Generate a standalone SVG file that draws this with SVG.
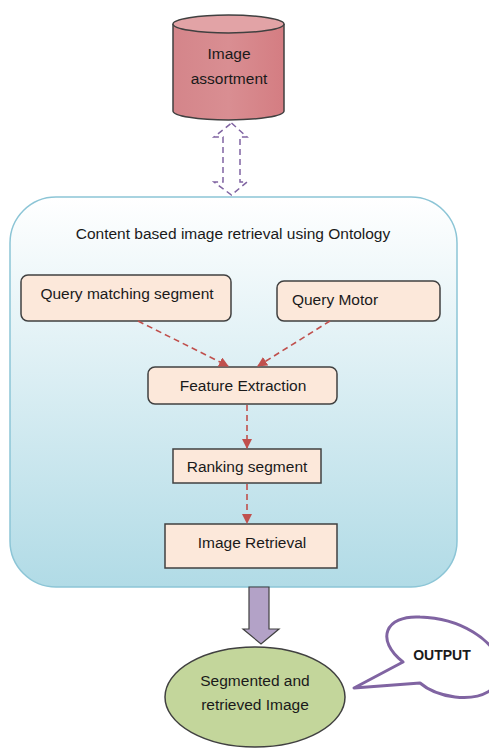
<svg xmlns="http://www.w3.org/2000/svg" width="489" height="749" viewBox="0 0 489 749">
<defs>
<linearGradient id="bg" x1="0" y1="0" x2="0" y2="1">
<stop offset="0" stop-color="#ffffff"/>
<stop offset="1" stop-color="#b1dbe6"/>
</linearGradient>
<linearGradient id="cyl" x1="0" y1="0" x2="1" y2="0">
<stop offset="0" stop-color="#d4858a"/>
<stop offset="0.5" stop-color="#d98e92"/>
<stop offset="1" stop-color="#d47d82"/>
</linearGradient>
<marker id="ah" viewBox="0 0 10 10" refX="9" refY="5" markerWidth="10" markerHeight="10" markerUnits="userSpaceOnUse" orient="auto">
<path d="M0,0 L10,5 L0,10 z" fill="#c0504d"/>
</marker>
<style>
.t{font-family:"Liberation Sans",Arial,sans-serif;font-size:15.5px;fill:#1a1a1a;text-anchor:middle;dominant-baseline:central}
.box{fill:#fce8da;stroke:#404040;stroke-width:1.5}
.dash{stroke:#c0504d;stroke-width:1.6;stroke-dasharray:6 4;fill:none;marker-end:url(#ah)}
</style>
</defs>
<g id="container">
<rect x="10" y="197" width="447" height="390" rx="46" fill="url(#bg)" stroke="#8cc5d6" stroke-width="1.5"/>
<text class="t" x="233" y="233">Content based image retrieval using Ontology</text>
</g>
<g id="image-assortment">
<path d="M173,24 L173,111 A55.5,9 0 0 0 284,111 L284,24" fill="url(#cyl)" stroke="#404040" stroke-width="1.5"/>
<ellipse cx="228.5" cy="24" rx="55.5" ry="9" fill="#e2a3a6" stroke="#404040" stroke-width="1.5"/>
<text class="t" x="229" y="53">Image</text>
<text class="t" x="229" y="78">assortment</text>
</g>
<g id="query-matching-segment">
<rect class="box" x="21" y="275" width="210" height="46" rx="7"/>
<text class="t" x="127" y="293">Query matching segment</text>
</g>
<g id="query-motor">
<rect class="box" x="277" y="281" width="163" height="40" rx="7"/>
<text class="t" x="335" y="299">Query Motor</text>
</g>
<g id="feature-extraction">
<rect class="box" x="148" y="367" width="189" height="37" rx="7"/>
<text class="t" x="243" y="385">Feature Extraction</text>
</g>
<g id="ranking-segment">
<rect class="box" x="173" y="449" width="148" height="34"/>
<text class="t" x="247" y="466">Ranking segment</text>
</g>
<g id="image-retrieval">
<rect class="box" x="165" y="524" width="172" height="44"/>
<text class="t" x="252" y="542">Image Retrieval</text>
</g>
<g id="output-image">
<ellipse cx="255" cy="697" rx="90" ry="50" fill="#c3d69b" stroke="#404040" stroke-width="1.5"/>
<text class="t" x="255" y="680">Segmented and</text>
<text class="t" x="255" y="704">retrieved Image</text>
</g>
<g id="output-callout">
<path d="M403,662 C375,640 385,615 420,617 C460,618 495,640 500,665 C505,690 480,700 455,697 C440,695 428,690 420,683 L354,688 Z" fill="#ffffff" stroke="#8064a2" stroke-width="3" stroke-linejoin="round"/>
<text class="t" x="442" y="655" style="font-weight:bold;font-size:14px">OUTPUT</text>
</g>
<g id="connectors">
<path d="M231.5,123 L247,137 L240,137 L240,182 L247,182 L231.5,195 L214,182 L223,182 L223,137 L214,137 Z" fill="none" stroke="#8064a2" stroke-width="1.5" stroke-dasharray="6 4"/>
<line class="dash" x1="138" y1="321" x2="228" y2="366"/>
<line class="dash" x1="330" y1="321" x2="258" y2="366"/>
<line class="dash" x1="247" y1="405" x2="247" y2="448"/>
<line class="dash" x1="247" y1="484" x2="247" y2="523"/>
<path d="M249,587 L269,587 L269,629 L279,629 L261,644 L243,629 L249,629 Z" fill="#b3a2c7" stroke="#404040" stroke-width="1.2"/>
</g>
</svg>
